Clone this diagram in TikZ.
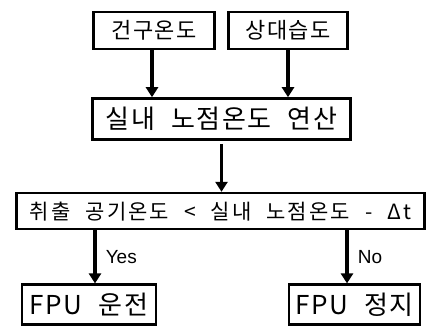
\documentclass[tikz,border=0pt]{standalone}
\usepackage{fontspec}
\usepackage{tikz}
\usetikzlibrary{arrows.meta, positioning}
\setmainfont{Liberation Sans}
\newfontfamily\krfont[WordSpace=2.2, LetterSpace=6]{Noto Sans CJK KR}
\newfontfamily\krwide[WordSpace=2.2, LetterSpace=10]{Noto Sans CJK KR}
\tikzset{
  block/.style={rectangle, draw=black, fill=white, line width=2.6pt,
    inner sep=0pt, align=center, font=\krfont\fontsize{22}{26}\selectfont},
  bigblock/.style={block, font=\krfont\fontsize{26}{30}\selectfont},
  arrow/.style={-{Triangle[width=12pt,length=10pt]}, line width=3.6pt, color=black},
  lbl/.style={font=\fontsize{19}{22}\selectfont, inner sep=0pt}
}

\begin{document}
\begin{tikzpicture}[x=1pt, y=1pt]
  \useasboundingbox[fill=white] (0,0) rectangle (427,-333);

  % Dew point calculation
  \node[bigblock, minimum width=258pt, minimum height=41pt] (calc) at (221.5,-119) {실내 노점온도 연산};

  % Inputs
  \node[block, minimum width=121pt, minimum height=37pt, above=47pt of calc, xshift=-67.5pt] (drybulb) {건구온도};
  \node[block, minimum width=119pt, minimum height=37pt, above=47pt of calc, xshift=66.5pt] (humid) {상대습도};

  % Condition
  \node[block, minimum width=408pt, minimum height=36pt, below=51pt of calc, xshift=-1pt,
    font=\krwide\fontsize{21}{25}\selectfont] (cond) {취출 공기온도 < 실내 노점온도 - Δt};

  % Outputs
  \node[bigblock, minimum width=134pt, minimum height=40pt, below=53pt of cond, xshift=-131.5pt] (run) {FPU 운전};
  \node[bigblock, minimum width=131pt, minimum height=40pt, below=53pt of cond, xshift=134pt] (stop) {FPU 정지};

  \draw[arrow] ([xshift=-2pt]drybulb.south) -- ([xshift=-2pt]drybulb.south |- calc.north);
  \draw[arrow] (humid) -- (humid |- calc.north);
  \draw[arrow, shorten <=3pt] (calc) -- (calc |- cond.north);
  \draw[arrow] ([xshift=-125.5pt]cond.south) -- node[lbl, right=9pt] {Yes} ([xshift=-125.5pt]cond.south |- run.north);
  \draw[arrow] ([xshift=126.5pt]cond.south) -- node[lbl, right=9pt] {No} ([xshift=126.5pt]cond.south |- stop.north);
\end{tikzpicture}
\end{document}
